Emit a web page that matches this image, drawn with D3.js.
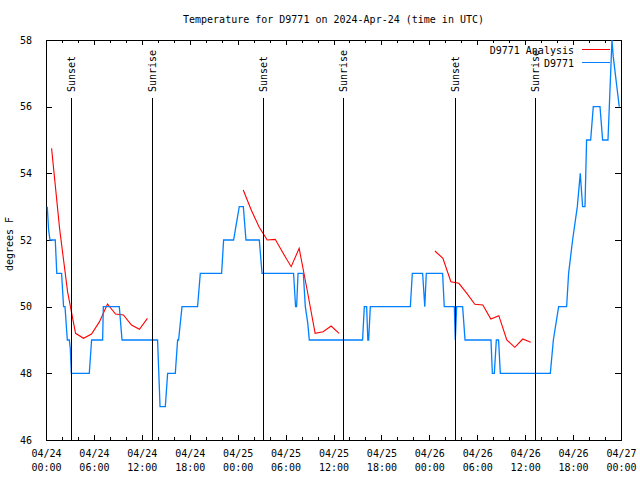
<!DOCTYPE html>
<html><head><meta charset="utf-8">
<script src="https://cdn.jsdelivr.net/npm/d3@7"></script>
<style>
body{margin:0;background:#fff;}
svg text{font-family:"DejaVu Sans Mono","Liberation Mono",monospace;font-size:10px;fill:#000;}
</style></head><body>
<svg id="c" width="640" height="480"></svg>
<script>
const title = "Temperature for D9771 on 2024-Apr-24 (time in UTC)";
const yLabel = "degrees F";
const seriesNames = ["D9771 Analysis", "D9771"];
const seriesColors = ["#ff0000", "#0080ff"];
const startDate = "2024-04-24T00:00:00Z";
const spanHours = 72;
const yDomain = [46, 58];
const yTicks = [46, 48, 50, 52, 54, 56, 58];

// observations: hours since 04/24 00:00 UTC, degrees F
const obsHours = [0.16,0.33,0.50,1.16,1.35,1.95,2.20,2.38,2.67,2.92,
  3.04,3.17,5.42,5.71,7.09,7.18,9.18,9.52,13.97,14.28,
  14.94,15.23,16.19,16.48,16.60,17.03,18.98,19.32,21.99,22.24,
  23.49,24.20,24.71,25.04,26.71,27.05,31.00,31.25,31.38,31.56,
  32.22,32.47,32.78,32.97,39.64,39.86,40.15,40.30,40.40,40.61,
  45.62,45.87,47.16,47.43,47.62,49.66,49.87,51.13,51.25,51.42,
  52.17,52.47,55.72,55.89,56.14,56.39,56.67,56.89,63.15,63.53,
  64.19,65.19,65.44,65.94,66.53,66.90,67.19,67.49,67.69,68.20,
  68.53,69.37,69.70,70.37,70.87,71.03,71.28,71.53,71.78];
const obsTemps = [53,52.3,52,52,51,51,50,50,49,49,
  48.75,48,48,49,49,50,50,49,49,47,
  47,48,48,49,49,50,50,51,51,52,
  52,53,53,52,52,51,51,50,50,51,
  51,50,49.5,49,49,50,50,49,49,50,
  50,51,51,50,51,51,50,50,49,50,
  50,49,49,48,48,49,49,48,48,49,
  50,50,51,52,53,54,53,53,55,55,
  56,56,55,55,58,57.5,57,56.5,56];

// analysis: hours since 04/24 00:00 UTC, degrees F
const anaHours = [0.7,1.7,2.7,3.7,4.7,5.7,6.7,7.7,8.7,9.7,10.7,11.7,12.7,
  24.7,25.7,26.7,27.7,28.7,29.7,30.7,31.7,32.7,33.7,34.7,35.7,36.7,
  48.7,49.7,50.7,51.7,52.7,53.7,54.7,55.7,56.7,57.7,58.7,59.7,60.7];
const anaTemps = [54.75,52.35,50.45,49.2,49.05,49.18,49.55,50.08,49.78,49.75,49.45,49.32,49.65,
  53.5,52.9,52.38,52.0,52.02,51.6,51.2,51.75,50.5,49.2,49.25,49.42,49.2,
  51.67,51.45,50.75,50.7,50.4,50.07,50.05,49.63,49.73,49.0,48.78,49.03,48.93];

const sunNames = ["Sunset","Sunrise","Sunset","Sunrise","Sunset","Sunrise"];
const sunHours = [3.08,13.22,27.12,37.18,51.16,61.2];

const svg = d3.select("#c");
const L = 46, R = 621, T = 40, B = 440;
const t0 = new Date(startDate);
const toDate = h => new Date(t0.getTime() + h * 3600e3);
const x = d3.scaleUtc().domain([t0, toDate(spanHours)]).range([L, R]);
const y = d3.scaleLinear().domain(yDomain).range([B, T]);

// title
svg.append("text").attr("x", 333.5).attr("y", 23).attr("text-anchor", "middle").text(title);
// y label
svg.append("text").attr("transform", "translate(12.5,244) rotate(-90)")
  .attr("text-anchor", "middle").text(yLabel);

// axes
function clean(g){ g.select(".domain").remove(); g.selectAll("line").attr("stroke","#000").attr("shape-rendering","crispEdges"); }
svg.append("g").attr("transform", `translate(0,${B})`)
  .call(d3.axisBottom(x).ticks(d3.utcHour.every(2)).tickSize(-3).tickFormat(""))
  .call(clean);
svg.append("g").attr("transform", `translate(0,${T})`)
  .call(d3.axisTop(x).ticks(d3.utcHour.every(2)).tickSize(-3).tickFormat(""))
  .call(clean);
svg.append("g").attr("transform", `translate(0,${T})`)
  .call(d3.axisTop(x).ticks(d3.utcHour.every(6)).tickSize(-5).tickFormat(""))
  .call(clean);
const fmtD = d3.utcFormat("%m/%d"), fmtT = d3.utcFormat("%H:%M");
const xb = svg.append("g").attr("transform", `translate(0,${B})`)
  .call(d3.axisBottom(x).ticks(d3.utcHour.every(6)).tickSize(-5).tickFormat(""))
  .call(clean);
xb.selectAll(".tick text").each(function(d){
  const t = d3.select(this).attr("dy", null).attr("y", null).attr("font-size", null).attr("font-family", null).attr("fill", null);
  t.append("tspan").attr("x", 0).attr("y", 17).text(fmtD(d));
  t.append("tspan").attr("x", 0).attr("y", 31).text(fmtT(d));
});
const yl = svg.append("g").attr("transform", `translate(${L},0)`)
  .call(d3.axisLeft(y).tickValues(yTicks).tickSize(-6).tickPadding(14).tickFormat(d3.format("d")))
  .call(clean);
yl.selectAll("text").attr("font-size", null).attr("font-family", null).attr("fill", null);
svg.append("g").attr("transform", `translate(${R},0)`)
  .call(d3.axisRight(y).tickValues(yTicks).tickSize(-6).tickFormat(""))
  .call(clean);

// frame
svg.append("rect").attr("x", L + 0.5).attr("y", T + 0.5).attr("width", R - L).attr("height", B - T)
  .attr("fill", "none").attr("stroke", "#000").attr("shape-rendering", "crispEdges");

// analysis (split into runs)
const ana = anaHours.map((h, i) => ({d: toDate(h), v: anaTemps[i], h}));
const runs = [];
ana.forEach((p, i) => {
  if (i === 0 || p.h - ana[i-1].h > 3) runs.push([]);
  runs[runs.length - 1].push(p);
});
const line = d3.line().x(p => x(p.d)).y(p => y(p.v));
svg.append("g").selectAll("path").data(runs).join("path")
  .attr("d", line).attr("fill", "none").attr("stroke", seriesColors[0]).attr("stroke-width", 1.1);

// observations
const obs = obsHours.map((h, i) => ({d: toDate(h), v: obsTemps[i]}));
svg.append("path").datum(obs).attr("d", line).attr("fill", "none")
  .attr("stroke", seriesColors[1]).attr("stroke-width", 1.3);

// sunrise/sunset markers
const sun = svg.append("g");
sunHours.forEach((h, i) => {
  const sx = Math.round(x(toDate(h))) + 0.5;
  sun.append("line").attr("x1", sx).attr("x2", sx).attr("y1", 98).attr("y2", B)
    .attr("stroke", "#000").attr("shape-rendering", "crispEdges");
  sun.append("text").attr("transform", `translate(${sx},92) rotate(-90)`)
    .attr("dy", "0.35em").text(sunNames[i]);
});

// legend
const lg = svg.append("g");
seriesNames.forEach((n, i) => {
  const ly = 54 + i * 13;
  lg.append("text").attr("x", 574).attr("y", ly).attr("text-anchor", "end").text(n);
  lg.append("line").attr("x1", 582).attr("x2", 610).attr("y1", ly - 4.5).attr("y2", ly - 4.5)
    .attr("stroke", seriesColors[i]).attr("shape-rendering", "crispEdges");
});
</script>
</body></html>
